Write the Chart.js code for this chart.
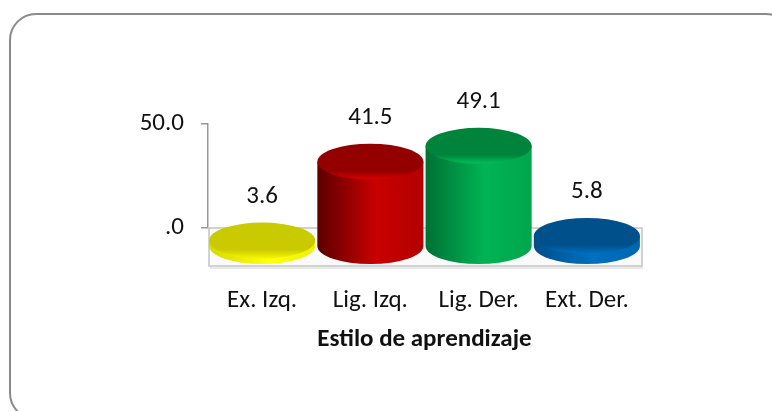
<!DOCTYPE html>
<html>
<head>
<meta charset="utf-8">
<script src="https://cdn.jsdelivr.net/npm/chart.js@4.4.1/dist/chart.umd.min.js"></script>
<style>
  html, body { margin: 0; padding: 0; background: #fff; }
  #wrap { width: 772px; height: 411px; position: relative; }
</style>
</head>
<body>
<div id="wrap"><canvas id="chart" width="772" height="411"></canvas></div>
<script>
// Data
const categories = ['Ex. Izq.', 'Lig. Izq.', 'Lig. Der.', 'Ext. Der.'];
const values = [3.6, 41.5, 49.1, 5.8];
const yTicks = [0, 50];
const axisTitle = 'Estilo de aprendizaje';

// cylinder colours: top face, rim, side dark edge, side light, side right edge
const cylColors = [
  { top: '#caca00', rim: '#f6f600', dark: '#d8d800', light: '#ffff10', edge: '#f0f000' },
  { top: '#940000', rim: '#d80000', dark: '#5c0000', light: '#c80000', edge: '#b40000' },
  { top: '#00843c', rim: '#00c058', dark: '#007034', light: '#00b454', edge: '#00a64c' },
  { top: '#00508c', rim: '#0070c0', dark: '#004e8c', light: '#0070c0', edge: '#0066b0' }
];

const FONT = 'Carlito, Lato, "Open Sans", sans-serif';
const FSIZE = 25;
const DEPTH = 38;   // floor depth in px
const RY = 18;      // ellipse half height

const frame = {
  id: 'frame',
  beforeDraw(chart) {
    const ctx = chart.ctx;
    ctx.save();
    ctx.fillStyle = '#fff';
    ctx.fillRect(0, 0, chart.width, chart.height);
    ctx.strokeStyle = '#8a8a8a';
    ctx.lineWidth = 2;
    ctx.beginPath();
    ctx.roundRect(10, 14, 782, 405, 26);
    ctx.stroke();
    ctx.restore();
  }
};

const cylinders = {
  id: 'cylinders',
  beforeDatasetsDraw(chart) {
    // floor of the 3D plot
    const ctx = chart.ctx;
    const area = chart.chartArea;
    const y0 = chart.scales.y.getPixelForValue(0);
    ctx.save();
    ctx.fillStyle = '#fafafa';
    ctx.strokeStyle = '#c4c4c4';
    ctx.lineWidth = 1.5;
    ctx.fillRect(area.left + 1, y0, area.right - area.left, DEPTH);
    ctx.strokeRect(area.left + 1, y0, area.right - area.left, DEPTH);
    ctx.strokeStyle = '#e2e2e2';
    ctx.beginPath();
    ctx.moveTo(area.left + 2, y0 + DEPTH + 2);
    ctx.lineTo(area.right + 2, y0 + DEPTH + 2);
    ctx.stroke();
    ctx.restore();
  },
  afterDatasetsDraw(chart) {
    const ctx = chart.ctx;
    const yScale = chart.scales.y;
    const y0 = yScale.getPixelForValue(0);
    const meta = chart.getDatasetMeta(0);
    meta.data.forEach((bar, i) => {
      const c = cylColors[i];
      const rx = bar.width / 2;
      const cx = bar.x;
      const yb = y0 + DEPTH / 2 - 1;
      const yt = bar.y + DEPTH / 2 + 1;
      ctx.save();
      // side
      const g = ctx.createLinearGradient(cx - rx, 0, cx + rx, 0);
      g.addColorStop(0, c.dark);
      g.addColorStop(0.55, c.light);
      g.addColorStop(1, c.edge);
      ctx.fillStyle = g;
      ctx.beginPath();
      ctx.moveTo(cx - rx, yt);
      ctx.lineTo(cx - rx, yb);
      ctx.ellipse(cx, yb, rx, RY, 0, Math.PI, 0, true);
      ctx.lineTo(cx + rx, yt);
      ctx.closePath();
      ctx.fill();
      // top face
      const gt = ctx.createLinearGradient(0, yt - RY, 0, yt + RY);
      gt.addColorStop(0, c.top);
      gt.addColorStop(0.75, c.top);
      gt.addColorStop(1, c.rim);
      ctx.fillStyle = gt;
      ctx.beginPath();
      ctx.ellipse(cx, yt, rx, RY, 0, 0, Math.PI * 2);
      ctx.fill();
      ctx.restore();
      // value label
      ctx.save();
      ctx.font = FSIZE + 'px ' + FONT;
      ctx.fillStyle = '#111';
      ctx.textAlign = 'center';
      ctx.textBaseline = 'middle';
      ctx.fillText(values[i].toFixed(1), cx, bar.y - 24);
      ctx.restore();
    });
  }
};

new Chart(document.getElementById('chart'), {
  type: 'bar',
  data: {
    labels: categories,
    datasets: [{
      data: values,
      backgroundColor: 'rgba(0,0,0,0)',
      borderWidth: 0,
      barPercentage: 0.98,
      categoryPercentage: 1
    }]
  },
  options: {
    responsive: false,
    animation: false,
    devicePixelRatio: 1,
    layout: { padding: { top: 124, right: 131, left: 0, bottom: 0 } },
    plugins: {
      legend: { display: false },
      tooltip: { enabled: false }
    },
    scales: {
      x: {
        afterFit: (s) => { s.height = 183; },
        grid: { display: false },
        border: { display: false },
        ticks: { color: '#111', padding: 50, font: { family: FONT, size: FSIZE } },
        title: {
          display: true,
          text: axisTitle,
          color: '#111',
          padding: { top: 0, bottom: 56 },
          font: { family: FONT, size: FSIZE, weight: 'bold' }
        }
      },
      y: {
        min: yTicks[0],
        max: yTicks[yTicks.length - 1],
        afterFit: (s) => { s.width = 208; },
        afterBuildTicks: (s) => { s.ticks = yTicks.map(v => ({ value: v })); },
        grid: { drawOnChartArea: false, color: '#999', tickLength: 7, lineWidth: 1.5 },
        border: { display: true, color: '#999', width: 1.5 },
        ticks: {
          color: '#111',
          padding: 17,
          font: { family: FONT, size: FSIZE },
          callback: (v) => v === 0 ? '.0' : v.toFixed(1)
        }
      }
    }
  },
  plugins: [frame, cylinders]
});
</script>
</body>
</html>
